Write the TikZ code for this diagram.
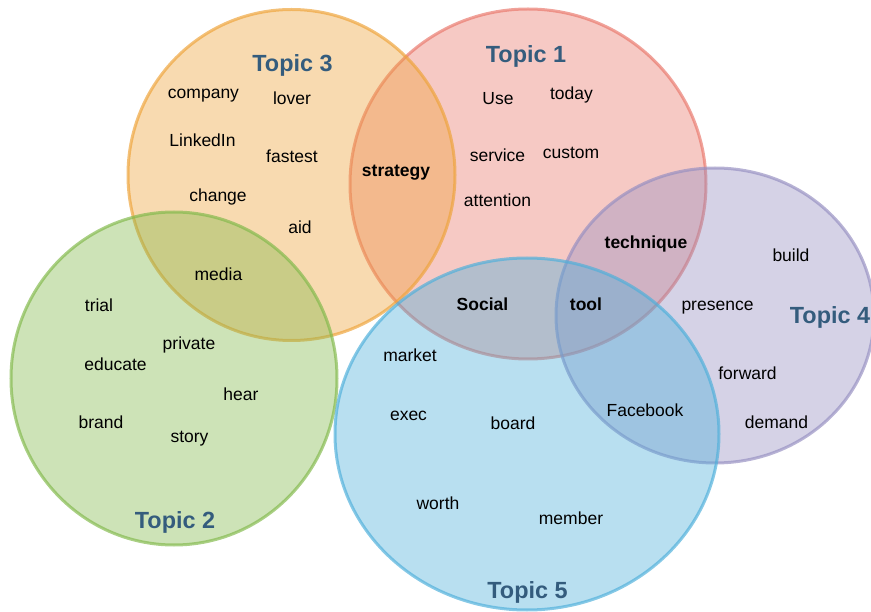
\documentclass[tikz,border=0pt]{standalone}
\usepackage{fontspec}
\setmainfont{Liberation Sans}
\definecolor{orangeT}{RGB}{238,163,58}
\definecolor{redT}{RGB}{233,120,108}
\definecolor{greenT}{RGB}{130,185,75}
\definecolor{blueT}{RGB}{78,175,218}
\definecolor{purpleT}{RGB}{150,143,193}
\definecolor{topicblue}{RGB}{52,92,125}
\tikzstyle{topicset}=[line width=3pt, fill opacity=0.4, draw opacity=0.68]
\tikzstyle{topic}=[anchor=base, inner sep=0pt, text=topicblue,
    font=\fontsize{23.4}{28}\selectfont\bfseries]
\tikzstyle{word}=[anchor=base, inner sep=0pt,
    font=\fontsize{17.5}{21}\selectfont]
\tikzstyle{shared}=[word, font=\fontsize{17.5}{21}\selectfont\bfseries]

\begin{document}
\begin{tikzpicture}[x=1pt, y=-1pt]
    \useasboundingbox (0,0) rectangle (871,612);
    % topic sets
    \draw [topicset, draw=redT, fill=redT] (528,184) ellipse [x radius=178, y radius=175];
    \draw [topicset, draw=orangeT, fill=orangeT] (291.5,175) ellipse [x radius=163.5, y radius=165.5];
    \draw [topicset, draw=greenT, fill=greenT] (174,378.5) ellipse [x radius=163, y radius=166.5];
    \draw [topicset, draw=purpleT, fill=purpleT] (715,315.5) ellipse [x radius=159, y radius=147.5];
    \draw [topicset, draw=blueT, fill=blueT] (527,434) ellipse [x radius=192, y radius=176];
    % topic titles
    \node (t1) [topic] at (526,63) {Topic 1};
    \node (t2) [topic] at (175,528) {Topic 2};
    \node (t3) [topic] at (292.5,72) {Topic 3};
    \node (t4) [topic] at (830,324) {Topic 4};
    \node (t5) [topic] at (527.5,598) {Topic 5};
    % topic 3
    \node (company) [word] at (203.5,99) {company};
    \node (lover) [word] at (292,105) {lover};
    \node (linkedin) [word] at (202.5,147) {LinkedIn};
    \node (fastest) [word] at (292,163) {fastest};
    \node (change) [word] at (218,202) {change};
    \node (aid) [word] at (300,234) {aid};
    \node (media) [word] at (218.5,281) {media};
    % topic 1
    \node (use) [word] at (498,105) {Use};
    \node (today) [word] at (571.5,100) {today};
    \node (service) [word] at (497.5,162) {service};
    \node (custom) [word] at (571,159) {custom};
    \node (attention) [word] at (497.5,206.5) {attention};
    % topic 2
    \node (trial) [word] at (99,311.5) {trial};
    \node (private) [word] at (189,350) {private};
    \node (educate) [word] at (115.5,371) {educate};
    \node (hear) [word] at (241,401) {hear};
    \node (brand) [word] at (101,429) {brand};
    \node (story) [word] at (189.5,442.5) {story};
    % topic 4
    \node (build) [word] at (791,262) {build};
    \node (presence) [word] at (717.5,311) {presence};
    \node (forward) [word] at (747.5,380) {forward};
    \node (demand) [word] at (776.5,429) {demand};
    % topic 5
    \node (market) [word] at (410,361.5) {market};
    \node (exec) [word] at (408.5,420.5) {exec};
    \node (board) [word] at (513,430) {board};
    \node (worth) [word] at (438,510) {worth};
    \node (member) [word] at (571,524) {member};
    \node (facebook) [word] at (645,416.5) {Facebook};
    % shared terms
    \node (strategy) [shared] at (396,177) {strategy};
    \node (technique) [shared] at (646,249) {technique};
    \node (social) [shared] at (482.5,311) {Social};
    \node (tool) [shared] at (586,311) {tool};
\end{tikzpicture}
\end{document}
